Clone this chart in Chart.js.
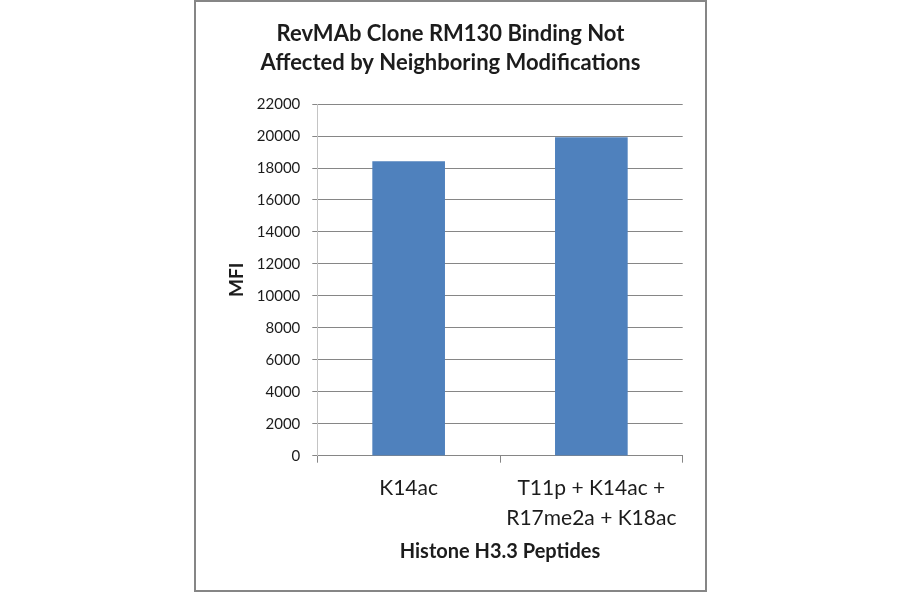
<!DOCTYPE html>
<html>
<head>
<meta charset="utf-8">
<script src="https://cdn.jsdelivr.net/npm/chart.js@4.4.1/dist/chart.umd.min.js"></script>
<style>
    html, body { margin: 0; padding: 0; background: #fff; }
    #box {
        position: absolute; left: 194px; top: 0px;
        width: 509px; height: 588px;
        border: 2px solid #868686;
        background: #fff;
    }
    #chart { width: 509px; height: 588px; }
</style>
</head>
<body>
<div id="box"><canvas id="chart" width="509" height="588"></canvas></div>
<script>
var categories = ['K14ac', ['T11p + K14ac +', 'R17me2a + K18ac']];
var mfiValues = [18400, 19900];
var titleLines = ['RevMAb Clone RM130 Binding Not', 'Affected by Neighboring Modifications'];
var yMin = 0, yMax = 22000, yStep = 2000;

var FONT = 'Lato, "Open Sans", sans-serif';
var TEXT = '#1c1c1c';
var GRID = '#868686';

var ctx = document.getElementById('chart').getContext('2d');
var chart = new Chart(ctx, {
    type: 'bar',
    data: {
        labels: categories,
        datasets: [{
            label: 'MFI',
            data: mfiValues,
            backgroundColor: '#4f81bd',
            borderWidth: 0,
            barThickness: 72,
        }],
    },
    options: {
        responsive: false,
        animation: false,
        layout: { padding: 0 },
        plugins: {
            legend: { display: false },
            tooltip: { enabled: false },
            title: {
                display: true,
                text: titleLines,
                color: TEXT,
                font: { family: FONT, size: 22, weight: 'bold', lineHeight: 1.32 },
                padding: { top: 17.5, bottom: 26.5 },
            },
        },
        scales: {
            x: {
                grid: {
                    drawOnChartArea: false,
                    drawTicks: true,
                    tickLength: 7,
                    color: GRID,
                },
                border: { color: GRID, width: 1 },
                ticks: {
                    color: TEXT,
                    padding: 10,
                    maxRotation: 0,
                    font: { family: FONT, size: 21, lineHeight: 1.45 },
                },
                title: {
                    display: true,
                    text: 'Histone H3.3 Peptides',
                    color: TEXT,
                    font: { family: FONT, size: 20, weight: 'bold' },
                    padding: { top: 0, bottom: 26.3 },
                },
                afterFit: function(scale) { scale.height = 134.3; },
            },
            y: {
                min: yMin,
                max: yMax,
                grid: {
                    color: GRID,
                    tickLength: 5,
                },
                border: { color: '#c4c4c4', width: 1 },
                ticks: {
                    stepSize: yStep,
                    color: TEXT,
                    padding: 12,
                    font: { family: FONT, size: 15 },
                    callback: function(v) { return String(v); },
                },
                title: {
                    display: true,
                    text: 'MFI',
                    color: TEXT,
                    font: { family: FONT, size: 19, weight: 'bold' },
                    padding: { top: 29, bottom: 0 },
                },
                afterFit: function(scale) { scale.width = 121.3; },
            },
            // empty margin on the right so the title stays centred on the whole box
            yRight: {
                type: 'linear',
                position: 'right',
                grid: { display: false },
                border: { display: false },
                ticks: { display: false },
                afterFit: function(scale) { scale.width = 22.3; },
            },
        },
    },
});
</script>
</body>
</html>
